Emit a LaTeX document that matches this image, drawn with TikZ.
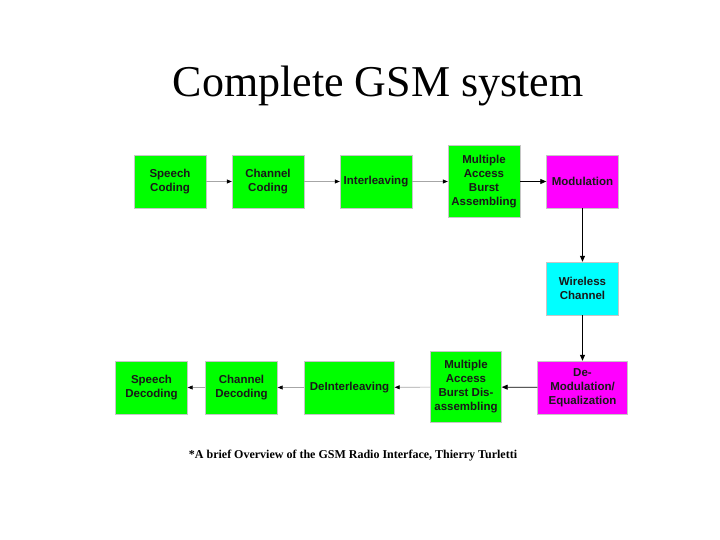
\documentclass[tikz,border=0pt]{standalone}
\usepackage{fontspec}
\setmainfont{Liberation Serif}
\newfontfamily\arialfont{Liberation Sans}
\usetikzlibrary{arrows.meta}
\definecolor{boxgreen}{RGB}{0,255,0}
\definecolor{boxmag}{RGB}{255,0,255}
\definecolor{boxcyan}{RGB}{0,255,255}
\tikzset{
  blk/.style={draw=gray!45, line width=0.4pt, align=center, inner sep=0pt,
    font=\arialfont\bfseries\fontsize{11.5}{14}\selectfont, text=black!90},
  gbox/.style={blk, fill=boxgreen},
  mbox/.style={blk, fill=boxmag},
  cbox/.style={blk, fill=boxcyan},
  thinarr/.style={draw=gray!70, line width=0.6pt, -{Triangle[length=5pt,width=4pt,color=black,fill=black]}},
  blkarr/.style={draw=black, line width=0.8pt, -{Triangle[length=6pt,width=5pt]}},
}
\begin{document}
\begin{tikzpicture}[x=1pt,y=-1pt]
\useasboundingbox (0,0) rectangle (720,540);
\node[font=\fontsize{44}{48}\selectfont, anchor=base] (title) at (378,97) {Complete GSM system};
% top row
\node[gbox, minimum width=72pt, minimum height=53pt] (sc) at (170,181.5) {Speech\\Coding};
\node[gbox, minimum width=72pt, minimum height=53pt] (cc) at (268,181.5) {Channel\\Coding};
\node[gbox, minimum width=72pt, minimum height=53pt] (il) at (376,181.5) {Interleaving};
\node[gbox, minimum width=72pt, minimum height=72pt] (ma) at (484,181.5) {Multiple\\Access\\Burst\\Assembling};
\node[mbox, minimum width=72pt, minimum height=53pt] (mod) at (582.5,181.5) {Modulation};
\node[cbox, minimum width=72pt, minimum height=53pt] (wc) at (582.5,288.5) {Wireless\\Channel};
% bottom row
\node[mbox, minimum width=90pt, minimum height=53pt] (dm) at (582.5,387.5) {De-\\Modulation/\\Equalization};
\node[gbox, minimum width=71pt, minimum height=71pt] (md) at (466,387) {Multiple\\Access\\Burst Dis-\\assembling};
\node[gbox, minimum width=90pt, minimum height=53pt] (di) at (349.5,387.5) {DeInterleaving};
\node[gbox, minimum width=72pt, minimum height=53pt] (cd) at (241.5,387.5) {Channel\\Decoding};
\node[gbox, minimum width=72pt, minimum height=53pt] (sd) at (151.5,387.5) {Speech\\Decoding};
% connectors
\draw[thinarr] (sc) -- (cc);
\draw[thinarr] (cc) -- (il);
\draw[thinarr] (il) -- (ma);
\draw[blkarr] (ma) -- (mod);
\draw[blkarr] (mod) -- (wc);
\draw[blkarr] (wc) -- (dm);
\draw[blkarr] (dm) -- (md);
\draw[thinarr] (md) -- (di);
\draw[thinarr] (di) -- (cd);
\draw[thinarr] (cd) -- (sd);
\node[font=\bfseries\fontsize{12}{14}\selectfont, anchor=base] (ref) at (353,458) {*A brief Overview of the GSM Radio Interface, Thierry Turletti};
\end{tikzpicture}
\end{document}
